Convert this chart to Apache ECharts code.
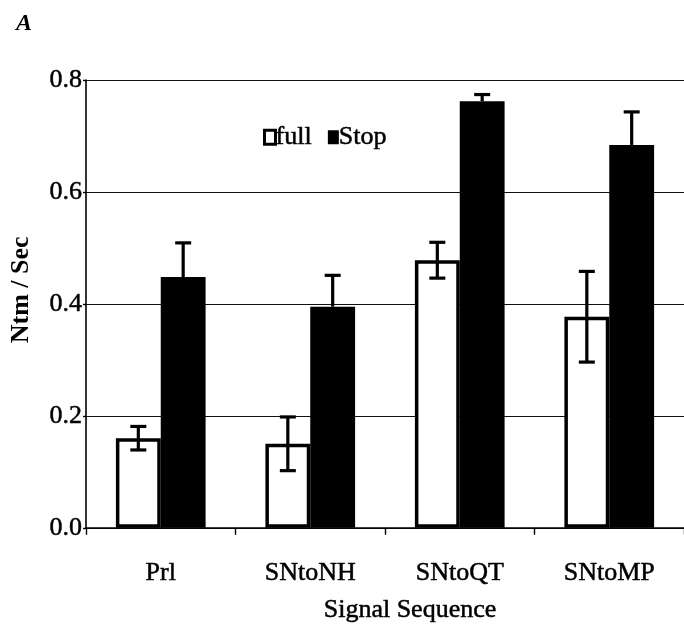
<!DOCTYPE html>
<html>
<head>
<meta charset="utf-8">
<script src="https://cdn.jsdelivr.net/npm/echarts@6/dist/echarts.min.js"></script>
<style>
  html, body { margin: 0; padding: 0; background: #fff; }
  #chart { width: 684px; height: 628px; }
</style>
</head>
<body>
<div id="chart"></div>
<script>
// Translocation rate per signal sequence, full-length vs. stop constructs
const categories = ['Prl', 'SNtoNH', 'SNtoQT', 'SNtoMP'];
const fullValues = [0.160, 0.150, 0.478, 0.377];
const fullErrors = [0.021, 0.048, 0.032, 0.081];
const stopValues = [0.448, 0.395, 0.762, 0.684];
const stopErrors = [0.061, 0.056, 0.012, 0.059];
const yTicks = [0.0, 0.2, 0.4, 0.6, 0.8];

const FONT = '"Liberation Serif", "Times New Roman", serif';
const CATEGORY_GAP = 0.4;
// slightly heavier strokes for the serif text
const INK = { color: '#000', textBorderColor: '#000', textBorderWidth: 0.5 };

// Error bar: stem plus caps; `side` picks the left (-1) or right (+1) bar of the pair.
function makeErrorRenderer(side, bothWays) {
  return function (params, api) {
    const idx = api.value(0);
    const val = api.value(1);
    const err = api.value(2);
    const band = api.size([1, 0])[0];
    const barW = band * (1 - CATEGORY_GAP) / 2;
    const cx = api.coord([idx, 0])[0] + side * barW / 2;
    const yTop = api.coord([idx, val + err])[1];
    const yBot = bothWays ? api.coord([idx, val - err])[1] : api.coord([idx, val])[1];
    const capHalf = 8;
    const style = { stroke: '#000', lineWidth: 3.2 };
    const children = [
      { type: 'line', shape: { x1: cx, y1: yBot, x2: cx, y2: yTop }, style },
      { type: 'line', shape: { x1: cx - capHalf, y1: yTop, x2: cx + capHalf, y2: yTop }, style }
    ];
    if (bothWays) {
      children.push({ type: 'line', shape: { x1: cx - capHalf, y1: yBot, x2: cx + capHalf, y2: yBot }, style });
    }
    return { type: 'group', children };
  };
}

const chart = echarts.init(document.getElementById('chart'), null, { renderer: 'canvas' });

chart.setOption({
  animation: false,
  backgroundColor: '#fff',
  title: {
    text: 'A',
    left: 11,
    top: 7,
    textStyle: { fontFamily: FONT, fontStyle: 'italic', fontWeight: 'bold', fontSize: 24, color: '#000' }
  },
  legend: {
    left: 258,
    top: 119,
    icon: 'rect',
    itemWidth: 11,
    itemHeight: 14,
    itemGap: 16,
    selectedMode: false,
    textStyle: Object.assign({ fontFamily: FONT, fontSize: 26, padding: [0, 0, 0, -5] }, INK),
    data: [
      { name: 'full', itemStyle: { color: '#fff', borderColor: '#000', borderWidth: 3 } },
      { name: 'Stop', itemStyle: { color: '#000', borderWidth: 0 } }
    ]
  },
  grid: { left: 85, top: 80, width: 602, height: 455 },
  xAxis: {
    type: 'category',
    data: categories,
    name: 'Signal Sequence',
    nameLocation: 'middle',
    nameGap: 69,
    nameTextStyle: Object.assign({ fontFamily: FONT, fontSize: 26, padding: [0, 0, 0, 50] }, INK),
    axisLine: { lineStyle: { color: '#000', width: 1.6 } },
    axisTick: { show: true, length: 7, interval: 0, lineStyle: { color: '#000', width: 1.4 } },
    axisLabel: Object.assign({ fontFamily: FONT, fontSize: 26, margin: 32, interval: 0 }, INK),
    splitLine: { show: false }
  },
  yAxis: {
    type: 'value',
    min: yTicks[0],
    max: yTicks[yTicks.length - 1],
    interval: 0.2,
    name: 'Ntm / Sec',
    nameLocation: 'middle',
    nameGap: 52,
    nameTextStyle: { fontFamily: FONT, fontSize: 26, fontWeight: 'bold', color: '#000', padding: [0, 0, 0, 28] },
    axisLine: { show: true, lineStyle: { color: '#000', width: 1.6 } },
    axisTick: { show: true, length: 3, lineStyle: { color: '#000', width: 1.4 } },
    axisLabel: Object.assign({
      fontFamily: FONT, fontSize: 26, margin: 4,
      formatter: v => v.toFixed(1)
    }, INK),
    splitLine: { show: true, lineStyle: { color: '#111', width: 1.2 } }
  },
  series: [
    {
      name: 'full',
      type: 'bar',
      data: fullValues,
      barGap: '0%',
      barCategoryGap: (CATEGORY_GAP * 100) + '%',
      itemStyle: { color: '#fff', borderColor: '#000', borderWidth: 3.5 },
      z: 2
    },
    {
      name: 'Stop',
      type: 'bar',
      data: stopValues,
      barGap: '0%',
      barCategoryGap: (CATEGORY_GAP * 100) + '%',
      itemStyle: { color: '#000' },
      z: 2
    },
    {
      type: 'custom',
      name: 'full error',
      renderItem: makeErrorRenderer(-1, true),
      data: categories.map((c, i) => [i, fullValues[i], fullErrors[i]]),
      z: 5,
      silent: true
    },
    {
      type: 'custom',
      name: 'Stop error',
      renderItem: makeErrorRenderer(1, false),
      data: categories.map((c, i) => [i, stopValues[i], stopErrors[i]]),
      z: 5,
      silent: true
    }
  ]
});
</script>
</body>
</html>
